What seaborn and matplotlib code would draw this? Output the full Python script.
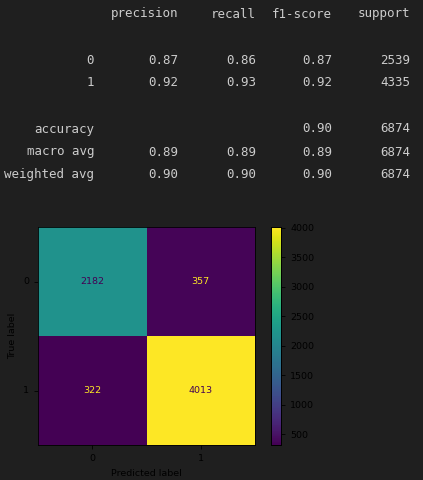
import numpy as np
import pandas as pd
import matplotlib
matplotlib.use("Agg")
import matplotlib.pyplot as plt
import seaborn as sns

# --- classification report values ---
report_cols = ["precision", "recall", "f1-score", "support"]
report_rows = ["0", "1", "accuracy", "macro avg", "weighted avg"]
precision = ["0.87", "0.92", "", "0.89", "0.90"]
recall = ["0.86", "0.93", "", "0.89", "0.90"]
f1_score = ["0.87", "0.92", "0.90", "0.89", "0.90"]
support = ["2539", "4335", "6874", "6874", "6874"]

# --- confusion matrix ---
class_labels = ["0", "1"]
cm_values = [[2182, 357],
             [322, 4013]]
cbar_ticks = [500, 1000, 1500, 2000, 2500, 3000, 3500, 4000]

BG = "#1f1f1f"
TXT = "#cccccc"

sns.set_theme(style="white")
plt.rcParams["font.family"] = ["DejaVu Sans"]

fig = plt.figure(figsize=(4.23, 4.80), dpi=100, facecolor=BG)

# --- 1. text report (notebook print output) ---
col_right = [178, 256, 332, 410]   # px, right edges of columns
label_right = 94
row_y = [60, 83, 129, 152, 175]
W, H = 423.0, 480.0
mono = dict(family="DejaVu Sans Mono", size=9, color=TXT, va="center", ha="right")

for cx, name in zip(col_right, report_cols):
    fig.text(cx / W, 1 - 14 / H, name, **mono)
table = [precision, recall, f1_score, support]
for r, ry in enumerate(row_y):
    fig.text(label_right / W, 1 - ry / H, report_rows[r], **mono)
    for c, cx in enumerate(col_right):
        fig.text(cx / W, 1 - ry / H, table[c][r], **mono)

# --- 2. confusion matrix heatmap ---
ax = fig.add_axes([38 / W, 1 - 445 / H, 217 / W, 218 / H])
cax = fig.add_axes([271 / W, 1 - 445 / H, 10 / W, 218 / H])
cm_df = pd.DataFrame(cm_values, index=class_labels, columns=class_labels)
vmin, vmax = cm_df.values.min(), cm_df.values.max()
sns.heatmap(cm_df, ax=ax, cbar_ax=cax, cmap="viridis", vmin=vmin, vmax=vmax,
            annot=True, fmt="d", annot_kws={"size": 6.8}, square=False,
            cbar_kws={"ticks": cbar_ticks})

# sklearn-style text colours: dark on bright cells, bright on dark cells
cmap = plt.get_cmap("viridis")
thresh = (vmax + vmin) / 2.0
for t in ax.texts:
    v = int(t.get_text())
    t.set_color(cmap(0.0) if v > thresh else cmap(1.0))

ax.set_xlabel("Predicted label", fontsize=6.8, color="black")
ax.set_ylabel("True label", fontsize=6.8, color="black")
ax.tick_params(axis="both", colors="black", labelsize=6.8, length=3, width=0.6,
               left=True, bottom=True)
ax.set_yticklabels(class_labels, rotation=0)
for s in ax.spines.values():
    s.set_visible(True)
    s.set_color("black")
    s.set_linewidth(0.6)

cax.tick_params(colors="black", labelsize=6.8, length=3, width=0.6, right=True)
for s in cax.spines.values():
    s.set_visible(True)
    s.set_color("black")
    s.set_linewidth(0.6)

fig.savefig("out.png", dpi=100, facecolor=BG)
